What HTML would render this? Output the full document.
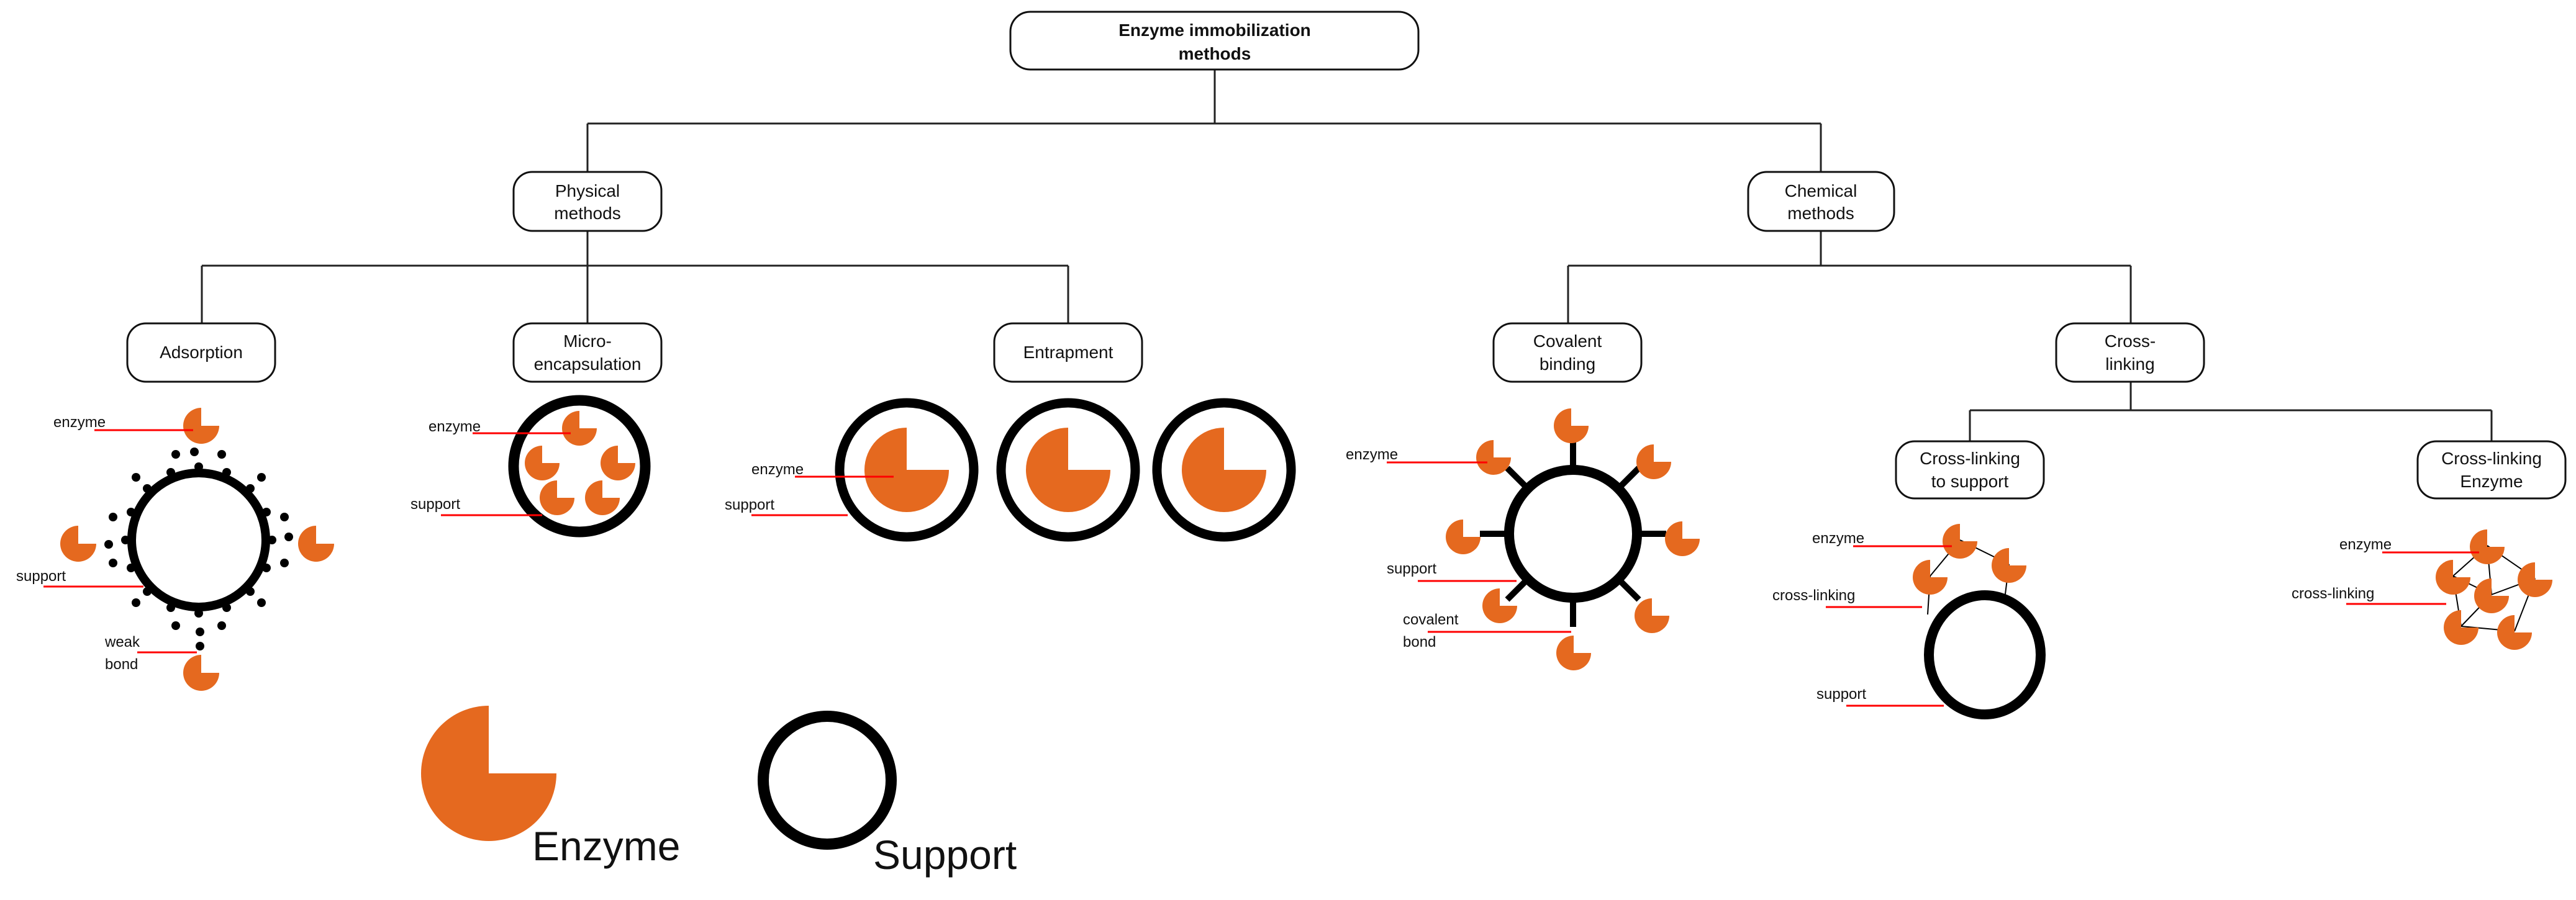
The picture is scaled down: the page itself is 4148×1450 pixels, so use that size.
<!DOCTYPE html>
<html><head><meta charset="utf-8"><style>
html,body{margin:0;padding:0;background:#fff;}
svg{display:block;}
text{font-family:"Liberation Sans",Arial,sans-serif;fill:#111;}
.b{fill:#fff;stroke:#111;stroke-width:3;}
.c{stroke:#222;stroke-width:3;fill:none;}
.r{stroke:#f00;stroke-width:3;}
.lb{font-size:28px;text-anchor:middle;}
.sm{font-size:24px;}
</style></head><body>
<svg width="4148" height="1450" viewBox="0 0 4148 1450" xmlns="http://www.w3.org/2000/svg">
<defs><path id="p" d="M0 0 L0 -1 A1 1 0 1 0 1 0 Z" fill="#E5691F"/></defs>

<path class="c" d="M1956 112 V199 M946 199 H2932 M946 199 V277 M2932 199 V277
M946 372 V428 M325 428 H1720 M325 428 V521 M946 428 V521 M1720 428 V521
M2932 372 V428 M2525 428 H3431 M2525 428 V521 M3431 428 V521
M3431 615 V661 M3172 661 H4012 M3172 661 V711 M4012 661 V711"/>

<rect class="b" x="1627" y="19" width="657" height="93" rx="32"/>
<text x="1956" y="58" font-size="28" font-weight="bold" text-anchor="middle">Enzyme immobilization</text>
<text x="1956" y="96" font-size="28" font-weight="bold" text-anchor="middle">methods</text>

<rect class="b" x="827" y="277" width="238" height="95" rx="30"/>
<text class="lb" x="946" y="317">Physical</text><text class="lb" x="946" y="353">methods</text>
<rect class="b" x="2815" y="277" width="235" height="95" rx="30"/>
<text class="lb" x="2932" y="317">Chemical</text><text class="lb" x="2932" y="353">methods</text>

<rect class="b" x="205" y="521" width="238" height="94" rx="30"/>
<text class="lb" x="324" y="577">Adsorption</text>
<rect class="b" x="827" y="521" width="238" height="94" rx="30"/>
<text class="lb" x="946" y="559">Micro-</text><text class="lb" x="946" y="596">encapsulation</text>
<rect class="b" x="1601" y="521" width="238" height="94" rx="30"/>
<text class="lb" x="1720" y="577">Entrapment</text>
<rect class="b" x="2405" y="521" width="238" height="94" rx="30"/>
<text class="lb" x="2524" y="559">Covalent</text><text class="lb" x="2524" y="596">binding</text>
<rect class="b" x="3311" y="521" width="238" height="94" rx="30"/>
<text class="lb" x="3430" y="559">Cross-</text><text class="lb" x="3430" y="596">linking</text>
<rect class="b" x="3053" y="711" width="238" height="92" rx="30"/>
<text class="lb" x="3172" y="748">Cross-linking</text><text class="lb" x="3172" y="785">to support</text>
<rect class="b" x="3893" y="711" width="238" height="92" rx="30"/>
<text class="lb" x="4012" y="748">Cross-linking</text><text class="lb" x="4012" y="785">Enzyme</text>

<!-- Adsorption -->
<circle cx="320" cy="870" r="108" fill="none" stroke="#000" stroke-width="14"/>
<g fill="#000">
<circle cx="438" cy="870" r="7"/><circle cx="429" cy="915" r="7"/><circle cx="403" cy="953" r="7"/><circle cx="365" cy="979" r="7"/><circle cx="320" cy="988" r="7"/><circle cx="275" cy="979" r="7"/><circle cx="237" cy="953" r="7"/><circle cx="211" cy="915" r="7"/><circle cx="202" cy="870" r="7"/><circle cx="211" cy="825" r="7"/><circle cx="237" cy="787" r="7"/><circle cx="275" cy="761" r="7"/><circle cx="320" cy="752" r="7"/><circle cx="365" cy="761" r="7"/><circle cx="403" cy="787" r="7"/><circle cx="429" cy="825" r="7"/>
<circle cx="458" cy="907" r="7"/><circle cx="421" cy="971" r="7"/><circle cx="357" cy="1008" r="7"/><circle cx="283" cy="1008" r="7"/><circle cx="219" cy="971" r="7"/><circle cx="182" cy="907" r="7"/><circle cx="182" cy="833" r="7"/><circle cx="219" cy="769" r="7"/><circle cx="283" cy="732" r="7"/><circle cx="357" cy="732" r="7"/><circle cx="421" cy="769" r="7"/><circle cx="458" cy="833" r="7"/>
<circle cx="313" cy="728" r="7"/><circle cx="465" cy="865" r="7"/><circle cx="175" cy="877" r="7"/><circle cx="322" cy="1018" r="7"/><circle cx="322" cy="1041" r="7"/>
</g>
<use href="#p" transform="translate(324,686) scale(29)"/>
<use href="#p" transform="translate(126,876) scale(29)"/>
<use href="#p" transform="translate(509,876) scale(29)"/>
<use href="#p" transform="translate(324,1084) scale(29)"/>
<text class="sm" x="86" y="688">enzyme</text><line class="r" x1="152" y1="693" x2="311" y2="693"/>
<text class="sm" x="26" y="936">support</text><line class="r" x1="70" y1="945" x2="231" y2="945"/>
<text class="sm" x="169" y="1042">weak</text><text class="sm" x="169" y="1078">bond</text><line class="r" x1="221" y1="1051" x2="317" y2="1051"/>

<!-- Micro -->
<circle cx="933" cy="751" r="106" fill="none" stroke="#000" stroke-width="17"/>
<use href="#p" transform="translate(933,690) scale(28)"/>
<use href="#p" transform="translate(873,746) scale(28)"/>
<use href="#p" transform="translate(995,746) scale(28)"/>
<use href="#p" transform="translate(897,802) scale(28)"/>
<use href="#p" transform="translate(970,802) scale(28)"/>
<text class="sm" x="690" y="695">enzyme</text><line class="r" x1="761" y1="698" x2="919" y2="698"/>
<text class="sm" x="661" y="820">support</text><line class="r" x1="710" y1="830" x2="873" y2="830"/>

<!-- Entrapment -->
<g fill="none" stroke="#000" stroke-width="15">
<circle cx="1460" cy="757" r="108"/><circle cx="1720" cy="757" r="108"/><circle cx="1971" cy="757" r="108"/>
</g>
<use href="#p" transform="translate(1460,757) scale(68)"/>
<use href="#p" transform="translate(1720,757) scale(68)"/>
<use href="#p" transform="translate(1971,757) scale(68)"/>
<text class="sm" x="1210" y="764">enzyme</text><line class="r" x1="1280" y1="768" x2="1439" y2="768"/>
<text class="sm" x="1167" y="821">support</text><line class="r" x1="1210" y1="830" x2="1365" y2="830"/>

<!-- Legend -->
<use href="#p" transform="translate(787,1246) scale(109)"/>
<text x="857" y="1386" font-size="66">Enzyme</text>
<circle cx="1332" cy="1257" r="103" fill="none" stroke="#000" stroke-width="18"/>
<text x="1406" y="1400" font-size="66">Support</text>

<!-- Covalent -->
<circle cx="2533" cy="860" r="103" fill="none" stroke="#000" stroke-width="16"/>
<path stroke="#000" stroke-width="10" d="M2638 860 H2683 M2607 934 L2639 966 M2533 965 V1010 M2459 934 L2427 966 M2428 860 H2383 M2459 786 L2427 754 M2533 755 V710 M2607 786 L2639 754"/>
<use href="#p" transform="translate(2530,686) scale(28)"/>
<use href="#p" transform="translate(2663,744) scale(28)"/>
<use href="#p" transform="translate(2405,737) scale(28)"/>
<use href="#p" transform="translate(2356,865) scale(28)"/>
<use href="#p" transform="translate(2709,868) scale(28)"/>
<use href="#p" transform="translate(2415,976) scale(28)"/>
<use href="#p" transform="translate(2660,992) scale(28)"/>
<use href="#p" transform="translate(2534,1052) scale(28)"/>
<text class="sm" x="2167" y="740">enzyme</text><line class="r" x1="2233" y1="745" x2="2395" y2="745"/>
<text class="sm" x="2233" y="924">support</text><line class="r" x1="2283" y1="936" x2="2442" y2="936"/>
<text class="sm" x="2259" y="1006">covalent</text><text class="sm" x="2259" y="1042">bond</text><line class="r" x1="2299" y1="1018" x2="2530" y2="1018"/>

<!-- Cross-linking to support -->
<path stroke="#000" stroke-width="2" fill="none" d="M3156 870 L3235 909 M3156 870 L3108 928 M3108 928 L3104 990 M3235 909 L3228 965"/>
<ellipse cx="3196" cy="1055" rx="90" ry="96" fill="none" stroke="#000" stroke-width="16"/>
<use href="#p" transform="translate(3156,872) scale(28)"/>
<use href="#p" transform="translate(3235,911) scale(28)"/>
<use href="#p" transform="translate(3108,930) scale(28)"/>
<text class="sm" x="2918" y="875">enzyme</text><line class="r" x1="2984" y1="880" x2="3143" y2="880"/>
<text class="sm" x="2854" y="967">cross-linking</text><line class="r" x1="2940" y1="978" x2="3095" y2="978"/>
<text class="sm" x="2925" y="1126">support</text><line class="r" x1="2973" y1="1137" x2="3130" y2="1137"/>

<!-- Cross-linking enzyme -->
<path stroke="#000" stroke-width="2" fill="none" d="M4005 879 L3950 928 M4005 879 L4012 958 M4005 879 L4082 932 M3950 928 L4012 958 M4082 932 L4012 958 M3950 928 L3963 1009 M4082 932 L4049 1017 M4012 958 L3963 1009 M3963 1009 L4049 1017"/>
<use href="#p" transform="translate(4005,881) scale(28)"/>
<use href="#p" transform="translate(3950,930) scale(28)"/>
<use href="#p" transform="translate(4082,934) scale(28)"/>
<use href="#p" transform="translate(4012,960) scale(28)"/>
<use href="#p" transform="translate(3963,1011) scale(28)"/>
<use href="#p" transform="translate(4049,1019) scale(28)"/>
<text class="sm" x="3767" y="885">enzyme</text><line class="r" x1="3836" y1="890" x2="3992" y2="890"/>
<text class="sm" x="3690" y="964">cross-linking</text><line class="r" x1="3778" y1="973" x2="3939" y2="973"/>
</svg>
</body></html>
